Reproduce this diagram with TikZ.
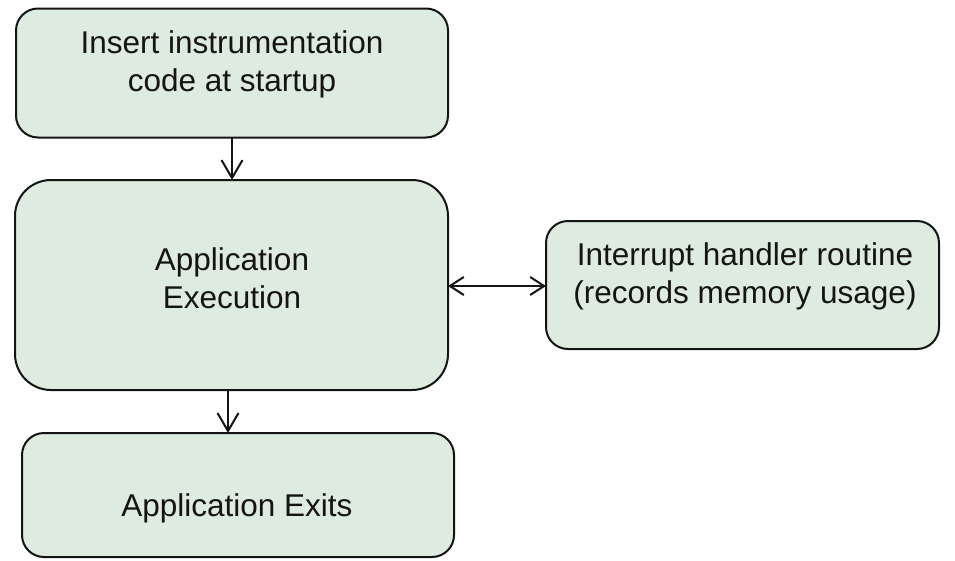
\documentclass[tikz,border=0pt]{standalone}
\usepackage{fontspec}
\setmainfont{Liberation Sans}
\usetikzlibrary{arrows.meta}
\definecolor{boxfill}{RGB}{221,235,224}
\definecolor{ink}{RGB}{20,20,20}
\tikzset{
  box/.style={draw=ink, line width=2pt, fill=boxfill, inner sep=0pt, outer sep=0pt},
  lbl/.style={text=ink, font=\fontsize{31.5}{38}\selectfont, align=center, inner sep=0pt},
  vline/.style={draw=ink, line width=2pt, -{Straight Barb[length=18pt,width=21pt,line width=2pt]}},
  hline/.style={draw=ink, line width=2pt, {Straight Barb[length=14pt,width=18pt,line width=2pt]}-{Straight Barb[length=14pt,width=18pt,line width=2pt]}}
}
\begin{document}
\begin{tikzpicture}[x=1pt,y=-1pt]
\useasboundingbox (0,0) rectangle (955,560);
% boxes
\node[box, rounded corners=22pt, minimum width=432pt, minimum height=129pt] (top) at (232,73) {};
\node[box, rounded corners=36pt, minimum width=433pt, minimum height=210pt] (mid) at (231.5,285) {};
\node[box, rounded corners=22pt, minimum width=393pt, minimum height=128pt] (right) at (742.5,285) {};
\node[box, rounded corners=22pt, minimum width=432pt, minimum height=124pt] (bot) at (238,495) {};
% texts
\node[lbl] (ttop) at (232,64) {Insert instrumentation\\code at startup};
\node[lbl] (tmid) at (232,278) {Application\\Execution};
\node[lbl] (tright) at (745,276) {Interrupt handler routine\\(records memory usage)};
\node[lbl] (tbot) at (237,508) {Application Exits};
% connectors
\draw[vline] (top.south -| 232,0) -- (mid.north -| 232,0);
\draw[vline] (mid.south -| 228,0) -- (bot.north -| 228,0);
\draw[hline] (mid.east |- 0,286) -- (right.west |- 0,286);
\end{tikzpicture}
\end{document}
